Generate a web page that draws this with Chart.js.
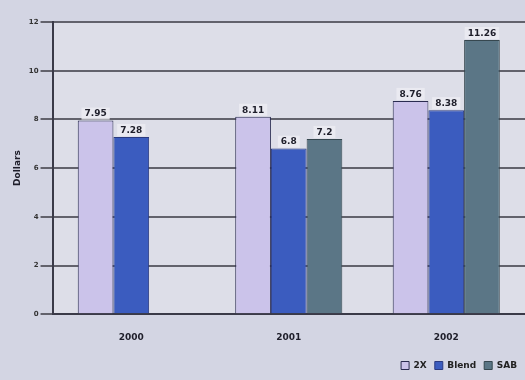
<!DOCTYPE html>
<html>
<head>
<meta charset="utf-8">
<script src="https://cdn.jsdelivr.net/npm/chart.js@4/dist/chart.umd.min.js"></script>
<style>
  html, body { margin: 0; padding: 0; background: #d3d5e3; overflow: hidden; }
  #wrap { width: 525px; height: 380px; }
</style>
</head>
<body>
<div id="wrap"><canvas id="myChart" width="525" height="380"></canvas></div>
<script>
const years = ['2000', '2001', '2002']
const series2x = [7.95, 8.11, 8.76]
const seriesBlend = [7.28, 6.8, 8.38]
const seriesSab = [null, 7.2, 11.26]
const yTicks = [0, 2, 4, 6, 8, 10, 12]

// value labels sitting on top of each bar
const barLabels = {
  id: 'barLabels',
  afterDatasetsDraw(chart) {
    const ctx = chart.ctx
    ctx.save()
    ctx.font = 'bold 9px "DejaVu Sans"'
    ctx.textAlign = 'center'
    ctx.textBaseline = 'bottom'
    chart.data.datasets.forEach((ds, i) => {
      chart.getDatasetMeta(i).data.forEach((bar, j) => {
        const v = ds.data[j]
        if (v == null) return
        const txt = String(v)
        const w = ctx.measureText(txt).width + 6
        ctx.fillStyle = 'rgba(236,236,242,0.85)'
        ctx.fillRect(bar.x - w / 2, bar.y - 13, w, 12)
        ctx.fillStyle = '#1e1e2a'
        ctx.fillText(txt, bar.x, bar.y - 2)
      })
    })
    ctx.restore()
  }
}

// lighter plot background
const plotBg = {
  id: 'plotBg',
  beforeDraw(chart) {
    const a = chart.chartArea
    const ctx = chart.ctx
    ctx.save()
    ctx.fillStyle = '#dddee8'
    ctx.fillRect(a.left, a.top, a.right - a.left, a.bottom - a.top)
    ctx.restore()
  }
}

const ctx = document.getElementById('myChart').getContext('2d')
const myChart = new Chart(ctx, {
  type: 'bar',
  data: {
    labels: years,
    datasets: [
      { label: '2X', data: series2x, backgroundColor: '#cbc3ea', borderColor: '#2a2c50', borderWidth: 1 },
      { label: 'Blend', data: seriesBlend, backgroundColor: '#3b5cbf', borderColor: '#2a3a80', borderWidth: 1 },
      { label: 'SAB', data: seriesSab, backgroundColor: '#5b7686', borderColor: '#36474f', borderWidth: 1 }
    ]
  },
  options: {
    responsive: false,
    animation: false,
    layout: { padding: { top: 22, right: 0, left: 8, bottom: 0 } },
    datasets: { bar: { categoryPercentage: 0.68, barPercentage: 1 } },
    plugins: {
      legend: {
        position: 'bottom',
        align: 'end',
        labels: { boxWidth: 8, boxHeight: 8, padding: 8, color: '#222', font: { family: 'DejaVu Sans', size: 9, weight: 'bold' } }
      },
      tooltip: { enabled: false }
    },
    scales: {
      x: {
        grid: { display: false },
        border: { color: '#3a3a48', width: 2 },
        ticks: { color: '#1e1e2a', padding: 10, font: { family: 'DejaVu Sans', size: 9, weight: 'bold' } }
      },
      y: {
        min: 0,
        max: 12,
        afterBuildTicks: axis => { axis.ticks = yTicks.map(v => ({ value: v })) },
        grid: { color: '#62626c', lineWidth: 2, tickLength: 12 },
        border: { color: '#3a3a48', width: 2 },
        title: { display: true, text: 'Dollars', color: '#1e1e2a', font: { family: 'DejaVu Sans', size: 9, weight: 'bold' } },
        ticks: { color: '#333', padding: 2, font: { family: 'DejaVu Sans', size: 7, weight: 'bold' } }
      }
    }
  },
  plugins: [plotBg, barLabels]
})
</script>
</body>
</html>
